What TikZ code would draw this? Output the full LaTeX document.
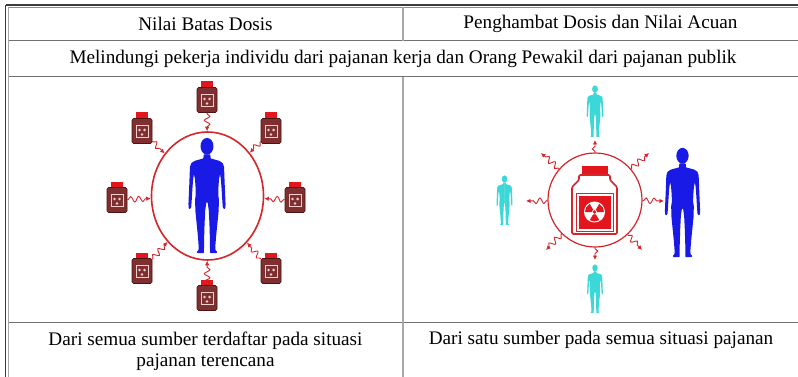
\documentclass[tikz,border=0pt]{standalone}
\usepackage{fontspec}
\setmainfont{Liberation Serif}
\usetikzlibrary{shapes.geometric,decorations.pathmorphing,arrows.meta}

\definecolor{ruledark}{HTML}{3C3C3C}
\definecolor{rulemid}{HTML}{8C8C8C}
\definecolor{rulelight}{HTML}{A8A8A8}
\definecolor{rulegrid}{HTML}{707070}
\definecolor{capred}{HTML}{E3161E}
\definecolor{ringred}{HTML}{D7262B}
\definecolor{maroon}{HTML}{7F2F2F}
\definecolor{maroonedge}{HTML}{4A1515}
\definecolor{labelpink}{HTML}{F2D0D0}
\definecolor{personblue}{HTML}{1A1AE6}
\definecolor{personcyan}{HTML}{3CD8D8}

\begin{document}
\begin{tikzpicture}[x=1pt,y=-1pt,
  celltext/.style={font=\fontsize{19.2}{21}\selectfont, inner sep=0, align=center},
  outerrule/.style={draw=ruledark, line width=1.2},
  innerrule/.style={draw=rulemid, line width=1},
  siderule/.style={draw=rulelight, line width=1.6},
  gridrule/.style={draw=rulegrid, line width=1},
  sbody/.style={rectangle, draw=maroonedge, line width=0.6, fill=maroon,
    rounded corners=1.5, minimum width=20, minimum height=25, inner sep=0},
  wave/.style={draw=ringred, line width=0.9,
    decoration={snake, segment length=8, amplitude=2.8, pre length=1, post length=3.5},
    decorate},
  tip/.style={-{Latex[length=4.5,width=4.5]}},
  sbottle/.pic={
    \node[sbody] (-body) at (0,3) {};
    \fill[capred] (-6,-15.5) rectangle (6,-10);
    \draw[labelpink, line width=0.7] (-6,-2.5) rectangle (6,9.5);
    \foreach \a in {-30,-150,90}
      \fill[labelpink] (0,3.5) ++(\a:3) circle (1.4);
  },
  person/.pic={
    \fill[#1] (0,-92) ellipse [x radius=5.6, y radius=7.2];
    \foreach \s in {1,-1}
      \fill[#1, xscale=\s, rounded corners=0.5]
        (-0.3,-85) -- (2.9,-85) -- (3.1,-81.5) -- (10.5,-79.5) -- (13.6,-77.5)
        -- (14.7,-74) -- (15,-66) -- (15.4,-56) -- (15.8,-47) -- (16,-42)
        -- (15.7,-38.5) -- (14.6,-37.8) -- (13.6,-39.5) -- (13.2,-45)
        -- (12.6,-55) -- (12,-63) -- (11.3,-68) -- (10.4,-64) -- (9.8,-56)
        -- (9.7,-50) -- (10.3,-46) -- (10,-36) -- (8.9,-25) -- (7.8,-14)
        -- (7.2,-6) -- (7.3,-2.5) -- (8.8,-1) -- (8.5,0) -- (2.6,0)
        -- (2.6,-3) -- (2.5,-12) -- (2.1,-25) -- (1.5,-37) -- (0.6,-43.5)
        -- (-0.3,-44) -- cycle;
  }]

\useasboundingbox (0,0) rectangle (798,377);
\fill[white] (0,0) rectangle (798,377);

% table rules
\draw[outerrule] (5.5,5) -- (798,5);
\draw[outerrule] (5.5,5) -- (5.5,377);
\draw[innerrule] (8.5,7.5) -- (798,7.5);
\draw[siderule] (8.5,7.5) -- (8.5,377);
\draw[gridrule] (8.5,41) -- (798,41);
\draw[gridrule] (8.5,77) -- (798,77);
\draw[gridrule] (8.5,322) -- (798,322);
\draw[siderule] (403,7.5) -- (403,41);
\draw[siderule] (403,77) -- (403,377);

% cell texts
\node[celltext] (h1) at (205.5,24) {Nilai Batas Dosis};
\node[celltext] (h2) at (600.5,24) {Penghambat Dosis dan Nilai Acuan};
\node[celltext] (r2) at (403,59) {Melindungi pekerja individu dari pajanan kerja dan Orang Pewakil dari pajanan publik};
\node[celltext] (f1) at (205.5,351) {Dari semua sumber terdaftar pada situasi\\pajanan terencana};
\node[celltext] (f2) at (601,340) {Dari satu sumber pada semua situasi pajanan};

% dose limit: all sources around one worker
\node[ellipse, draw=ringred, line width=1.6, minimum width=112, minimum height=128, inner sep=0] (ell) at (207.5,196) {};
\pic at (207,253) [scale=1.16] {person=personblue};
\foreach \n/\p in {1/{(207,97)}, 2/{(142,128)}, 3/{(271,128)}, 4/{(117,197)},
                   5/{(295,197)}, 6/{(142,268)}, 7/{(271,268)}, 8/{(207,295)}}{
  \pic (b\n) at \p {sbottle};
  \draw[wave, tip] (b\n-body) -- (ell);
}

% dose constraint: one source, several persons
\node[circle, draw=ringred, line width=1.2, minimum size=94, inner sep=0] (ring) at (595,200) {};
\fill[capred] (582,166) rectangle (608,175);
\draw[ringred, line width=1.6, fill=white, rounded corners=1.2]
  (579,175) -- (579,180) -- (572,187) -- (572,234) -- (617,234) -- (617,187)
  -- (610,180) -- (610,175) -- cycle;
\draw[ringred, line width=0.8] (576,193) rectangle (613,231);
\fill[capred] (578.5,195.5) rectangle (610.5,228.5);
\begin{scope}[shift={(594.5,212)}]
  \fill[white] (0,0) circle (10.5);
  \foreach \a in {-60,-180,60}
    \fill[capred] (\a:2.8) -- (\a:9.5) arc[start angle=\a, end angle={\a+60}, radius=9.5]
      -- ({\a+60}:2.8) arc[start angle={\a+60}, end angle=\a, radius=2.8] -- cycle;
  \fill[capred] (0,0) circle (1.8);
\end{scope}

\coordinate (e1) at (595,140);
\coordinate (e2) at (649,153);
\coordinate (e3) at (664,201);
\coordinate (e4) at (642,250);
\coordinate (e5) at (595,260);
\coordinate (e6) at (546,250);
\coordinate (e7) at (526,201);
\coordinate (e8) at (541,153);
\foreach \k in {1,...,8}
  \draw[wave, tip] (ring) -- (e\k);

\pic at (595,137) [scale=0.52] {person=personcyan};
\pic at (504.5,225) [scale=0.50] {person=personcyan};
\pic at (595,313) [scale=0.49] {person=personcyan};
\pic at (682.5,257) [scale=1.10] {person=personblue};

\end{tikzpicture}
\end{document}
